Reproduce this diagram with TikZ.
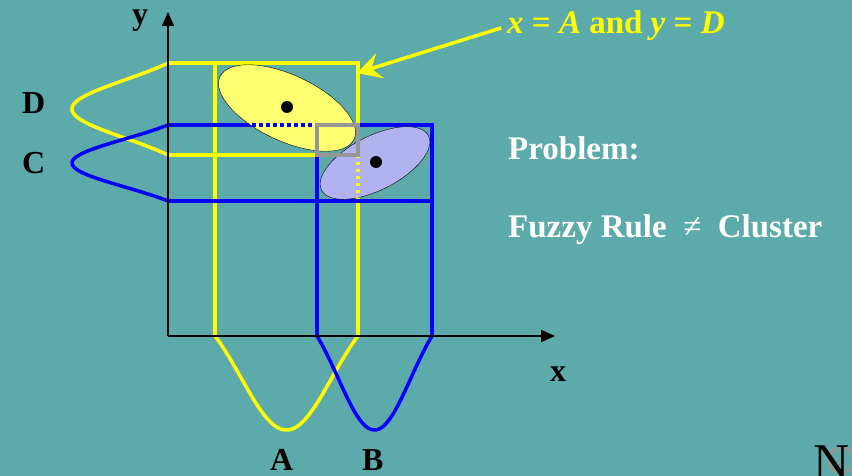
\documentclass[tikz,border=0pt]{standalone}
\usepackage{fontspec}
\setmainfont{Liberation Serif}
\usetikzlibrary{arrows.meta}
\definecolor{bgteal}{RGB}{92,171,170}
\definecolor{ruleyellow}{RGB}{255,255,0}
\definecolor{ruleblue}{RGB}{0,0,255}
\definecolor{clusteryellow}{RGB}{255,255,112}
\definecolor{clusterblue}{RGB}{178,178,240}
\definecolor{overlapgray}{RGB}{150,150,150}
\tikzset{
  axisline/.style={line width=1.5pt, -{Triangle[length=14pt,width=12pt]}},
  yellowline/.style={ruleyellow, line width=3.5pt},
  blueline/.style={ruleblue, line width=3.5pt},
  dotline/.style={dash pattern=on 3.5pt off 3.5pt},
  setlbl/.style={font=\fontsize{32}{36}\selectfont\bfseries, inner sep=0pt, anchor=base west},
  textlbl/.style={font=\fontsize{33}{38}\selectfont\bfseries, white, inner sep=0pt, anchor=base west}
}

\begin{document}
\begin{tikzpicture}[x=1pt,y=-1pt,
  declare function={gs(\t)=(exp(-(\t*\t)/0.8)-exp(-1/0.8))/(1-exp(-1/0.8));}]
\fill[bgteal] (0,0) rectangle (852,476);
\useasboundingbox (0,0) rectangle (852,476);

% rule boxes
\draw[yellowline, line join=miter] (168,63) -- (358,63) -- (358,336);
\draw[yellowline] (168,155) -- (358,155) (215,63) -- (215,336);
\draw[blueline, line join=miter] (168,125) -- (432,125) -- (432,336);
\draw[blueline] (168,201) -- (432,201) (317,125) -- (317,336);

% membership functions
\draw[yellowline] plot[domain=-1:1, samples=70, smooth] ({286.5+71.5*\x},{336+94*gs(\x)});
\draw[blueline] plot[domain=-1:1, samples=70, smooth] ({374.5+57.5*\x},{336+94*gs(\x)});
\draw[yellowline] plot[domain=-1:1, samples=70, smooth] ({168-96*gs(\x)},{109+46*\x});
\draw[blueline] plot[domain=-1:1, samples=70, smooth] ({168-96*gs(\x)},{163+38*\x});

% clusters
\draw[fill=clusteryellow, rotate around={-25:(287,108)}] (287,108) ellipse [x radius=74, y radius=33];
\draw[fill=clusterblue, rotate around={27:(375,163)}] (375,163) ellipse [x radius=60, y radius=27];
\begin{scope}
  \clip[rotate around={-25:(287,108)}] (287,108) ellipse [x radius=74, y radius=33];
  \draw[blueline, dotline] (168,125) -- (317,125);
\end{scope}
\begin{scope}
  \clip[rotate around={27:(375,163)}] (375,163) ellipse [x radius=60, y radius=27];
  \draw[yellowline, dotline] (358,155) -- (358,336);
\end{scope}
\draw[overlapgray, line width=3.5pt] (317,125) rectangle (358,155);
\fill (287,107) circle (6);
\fill (376,162) circle (6);

% axes
\coordinate (origin) at (168,336);
\coordinate (xtip) at (555,336);
\coordinate (ytip) at (168,12);
\draw[axisline] (origin) -- (xtip);
\draw[axisline] (origin) -- (ytip);
\node[setlbl] (lblx) at (550,381) {x};
\node[setlbl] (lbly) at (132,25) {y};
\node[setlbl] (lblA) at (270,470) {A};
\node[setlbl] (lblB) at (362,470) {B};
\node[setlbl] (lblD) at (22,114) {D};
\node[setlbl] (lblC) at (22,174) {C};

% labels
\node[textlbl, ruleyellow] (rulelbl) at (507,34) {\textit{x} = \textit{A} and \textit{y} = \textit{D}};
\coordinate (arrowtip) at (357,73);
\draw[yellowline, shorten <=6pt, -{Stealth[length=24pt,width=26pt,inset=9pt]}] (rulelbl.west) -- (arrowtip);
\node[textlbl] (problem) at (508,160) {Problem:};
\node[textlbl] (fuzzy) at (508,237) {Fuzzy Rule~~{\mdseries\symbol{"2260}}~~Cluster};

\draw[overlapgray, line width=3pt] (842,460) circle (13);
\node[inner sep=0pt, anchor=base west, font=\fontsize{50}{50}\selectfont] (corner) at (813,478) {N};
\end{tikzpicture}
\end{document}
